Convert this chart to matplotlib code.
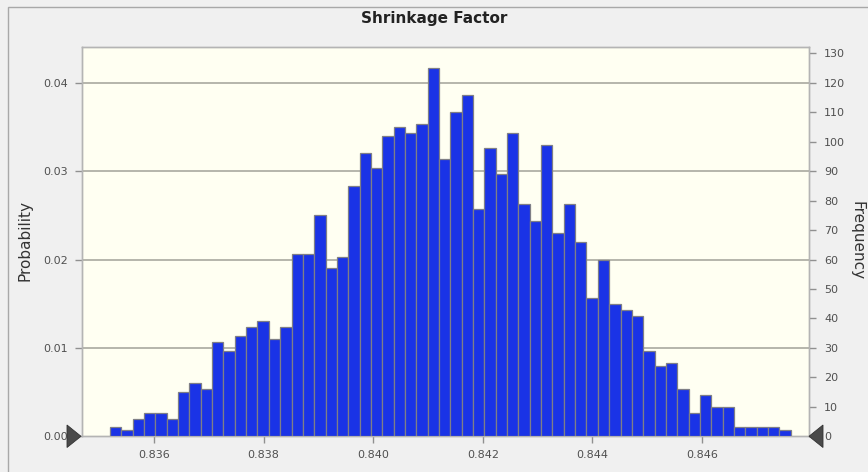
import numpy as np
import matplotlib.pyplot as plt
from matplotlib.patches import Rectangle, Polygon

# Histogram counts (60 bins, 3000 trials)
counts = [3, 2, 6, 8, 8, 6, 15, 18, 16, 32,
          29, 34, 37, 39, 33, 37, 62, 62, 75, 57,
          61, 85, 96, 91, 102, 105, 103, 106, 125, 94,
          110, 116, 77, 98, 89, 103, 79, 73, 99, 69,
          79, 66, 47, 60, 45, 43, 41, 29, 24, 25,
          16, 8, 14, 10, 10, 3, 3, 3, 3, 2]
bin_start = 0.835197
bin_end = 0.847619
trials = 3000
x_ticks = [0.836, 0.838, 0.840, 0.842, 0.844, 0.846]
prob_ticks = [0.00, 0.01, 0.02, 0.03, 0.04]
freq_ticks = list(range(0, 131, 10))

edges = np.linspace(bin_start, bin_end, len(counts) + 1)
width = edges[1] - edges[0]

W, H = 868, 472
fig = plt.figure(figsize=(W / 100, H / 100), dpi=100, facecolor='#f0f0f0')
# outer panel frame
fig.patches.append(Rectangle((8 / W, -0.05), 1.0, 1.05 - 7 / H,
                             transform=fig.transFigure, fill=False,
                             edgecolor='#a8a8a8', linewidth=1.0))

ax = fig.add_axes([82 / W, (H - 436.3) / H, 727 / W, 389.3 / H])
ax.set_facecolor('#fffff2')
ax2 = ax.twinx()

ymax_freq = 389.3 / 2.946
ax2.bar(edges[:-1], counts, width=width, align='edge', color='#1a33e6',
        edgecolor='#7f7f86', linewidth=0.9, zorder=3)
ax2.set_ylim(0, ymax_freq)
ax.set_ylim(0, ymax_freq / trials)
ax.set_xlim(0.834686, 0.847953)

ax.set_yticks(prob_ticks)
ax.set_yticklabels(['%.2f' % t for t in prob_ticks])
ax2.set_yticks(freq_ticks)
ax.set_xticks(x_ticks)
ax.set_xticklabels(['%.3f' % t for t in x_ticks])

for t in prob_ticks[1:]:
    ax2.axhline(t * trials, color='#a9a9a0', linewidth=1.2, zorder=1)

for a in (ax, ax2):
    for s in a.spines.values():
        s.set_color('#b4b4b4')
        s.set_linewidth(1.0)
ax.tick_params(axis='both', colors='#909090', labelcolor='#505050',
               labelsize=8, length=5, width=1.0, pad=5)
ax2.tick_params(axis='y', colors='#909090', labelcolor='#505050',
                labelsize=8, length=5, width=1.0, pad=6)

ax.set_ylabel('Probability', fontsize=11, color='#333333', va='center')
ax.yaxis.set_label_coords((25.5 - 82) / 727, 0.504)
ax2.set_ylabel('Frequency', fontsize=11, color='#333333', rotation=270,
               va='center')
ax2.yaxis.set_label_coords((857 - 82) / 727, 0.504)
fig.text(0.5, 1 - 19 / H, 'Shrinkage Factor', ha='center', va='center',
         fontsize=11, fontweight='bold', color='#222222')

# certainty grabbers at the zero line
def px(x, y):
    return (x / W, 1 - y / H)

fig.patches.append(Polygon([px(81, 436.3), px(67, 425), px(67, 447.5)],
                           closed=True, transform=fig.transFigure,
                           facecolor='#4a4a4a', edgecolor='#333333',
                           linewidth=0.6, zorder=5))
fig.patches.append(Polygon([px(809, 436.3), px(823, 425), px(823, 447.5)],
                           closed=True, transform=fig.transFigure,
                           facecolor='#4a4a4a', edgecolor='#333333',
                           linewidth=0.6, zorder=5))

fig.savefig('out.png', dpi=100, facecolor=fig.get_facecolor())
